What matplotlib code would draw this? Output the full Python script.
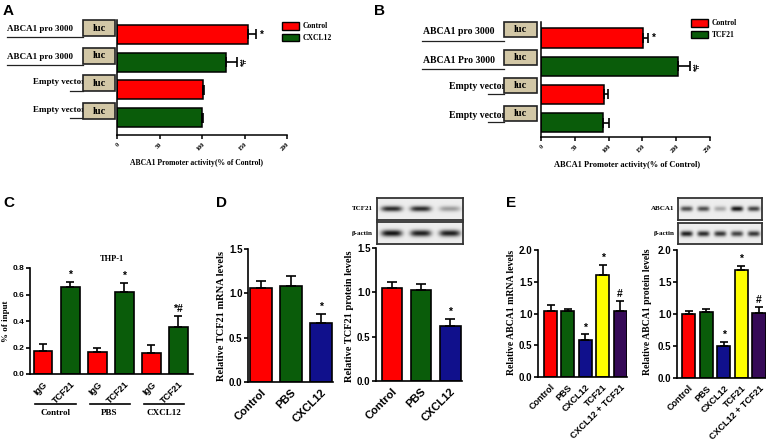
import numpy as np
import matplotlib.pyplot as plt
import matplotlib.transforms as mtransforms
from matplotlib.patches import Rectangle, Patch

W, H, DPI = 766, 443, 100
SANS = 'Liberation Sans'
SERIF = 'Liberation Serif'
RED = '#ff0000'
GREEN = '#0a5c0a'
BLUE = '#10108c'
YELLOW = '#ffff00'
PURPLE = '#360a57'
TAN = '#d2c7a6'

# ---- data ----
# A: promoter activity, CXCL12
a_rows = ['ABCA1 pro 3000', 'ABCA1 pro 3000', 'Empty vector', 'Empty vector']
a_groups = ['Control', 'CXCL12', 'Control', 'CXCL12']
a_vals = [154, 128, 101, 100]
a_errs = [9, 13, 1.5, 1.5]
a_marks = ['*', '*#', '', '']

# B: promoter activity, TCF21
b_rows = ['ABCA1 pro 3000', 'ABCA1 Pro 3000', 'Empty vector', 'Empty vector']
b_groups = ['Control', 'TCF21', 'Control', 'TCF21']
b_vals = [151, 203, 93, 92]
b_errs = [7, 17, 6, 9]
b_marks = ['*', '*#', '', '']

# C: ChIP, THP-1
c_labels = ['IgG', 'TCF21', 'IgG', 'TCF21', 'IgG', 'TCF21']
c_treat = ['Control', 'PBS', 'CXCL12']
c_vals = [0.17, 0.655, 0.165, 0.62, 0.16, 0.355]
c_errs = [0.06, 0.04, 0.035, 0.07, 0.06, 0.085]
c_marks = ['', '*', '', '*', '', '*#']

# D: TCF21 mRNA / protein
d_labels = ['Control', 'PBS', 'CXCL12']
d_mrna = [1.06, 1.08, 0.66]
d_mrna_err = [0.08, 0.11, 0.11]
d_prot = [1.05, 1.03, 0.62]
d_prot_err = [0.07, 0.06, 0.08]
d_marks = ['', '', '*']
d_blot_tcf21 = [0.85, 0.85, 0.35]
d_blot_actin = [0.95, 0.9, 0.9]

# E: ABCA1 mRNA / protein
e_labels = ['Control', 'PBS', 'CXCL12', 'TCF21', 'CXCL12 + TCF21']
e_mrna = [1.04, 1.04, 0.58, 1.61, 1.04]
e_mrna_err = [0.09, 0.03, 0.09, 0.15, 0.16]
e_prot = [1.0, 1.03, 0.5, 1.69, 1.02]
e_prot_err = [0.05, 0.05, 0.06, 0.06, 0.09]
e_marks = ['', '', '*', '*', '#']
e_blot_abca1 = [0.7, 0.7, 0.3, 0.95, 0.75]
e_blot_actin = [0.9, 0.85, 0.8, 0.75, 0.8]

fig = plt.figure(figsize=(W / DPI, H / DPI), dpi=DPI)
fig.patch.set_facecolor('white')

# pixels measured from the top-left corner
PX = mtransforms.Affine2D().scale(1, -1).translate(0, H).scale(1 / DPI) + fig.dpi_scale_trans


def px_axes(x0, y0, x1, y1):
    return fig.add_axes([x0 / W, 1 - y1 / H, (x1 - x0) / W, (y1 - y0) / H])


def ftext(x, y, s, **kw):
    return fig.text(x, y, s, transform=PX, **kw)


def prism_axes(ax, lw=1.2):
    ax.spines['top'].set_visible(False)
    ax.spines['right'].set_visible(False)
    for s in ('left', 'bottom'):
        ax.spines[s].set_linewidth(lw)
    ax.tick_params(width=lw, length=3.5, direction='out')


def promoter_panel(rect, rows, groups, vals, errs, marks, xmax, ylim, geo):
    ax = px_axes(*rect)
    prism_axes(ax, 1.1)
    y = np.arange(len(vals))
    colors = [RED if g == 'Control' else GREEN for g in groups]
    ax.barh(y, vals, height=0.69, color=colors, edgecolor='black', linewidth=1.1, zorder=2)
    ax.errorbar(vals, y, xerr=[np.zeros(len(errs)), errs], fmt='none', ecolor='black',
                elinewidth=1.2, capsize=3.5, capthick=1.2, zorder=3)
    ax.set_xlim(0, xmax)
    ax.set_ylim(*ylim)
    ax.set_yticks([])
    ticks = np.arange(0, xmax + 1, 50)
    ax.set_xticks(ticks)
    ax.set_xticklabels([str(t) for t in ticks], rotation=45, ha='right', rotation_mode='anchor',
                       fontfamily=SERIF, fontweight='bold', fontsize=4.5)
    ax.tick_params(axis='x', length=3, pad=2)
    for yi, v, e, m in zip(y, vals, errs, marks):
        if m == '*':
            ax.text(v + e + xmax * 0.025, yi, m, ha='left', va='center', fontfamily=SANS,
                    fontweight='bold', fontsize=7)
        elif m:
            ax.text(v + e + xmax * 0.02, yi, m, ha='left', va='center', rotation=90,
                    fontfamily=SANS, fontweight='bold', fontsize=6.5)

    # construct diagrams: label, line and luc box
    tr = mtransforms.blended_transform_factory(PX, ax.transData)
    bx0, bx1 = geo['box']
    for yi, name in zip(y, rows):
        box = Rectangle((bx0, yi + geo['box_top']), bx1 - bx0, geo['box_bot'] - geo['box_top'],
                        transform=tr, facecolor=TAN, edgecolor='#222222', linewidth=1.2,
                        clip_on=False, zorder=4)
        ax.add_patch(box)
        ax.text((bx0 + bx1) / 2, yi + (geo['box_top'] + geo['box_bot']) / 2, 'luc', transform=tr,
                ha='center', va='center', fontfamily=SERIF, fontweight='bold', fontsize=7.5,
                clip_on=False, zorder=5)
        if name.startswith('ABCA1'):
            ax.plot([geo['line_x0'], bx0], [yi + geo['line_off']] * 2, transform=tr, color='#222222',
                    lw=0.9, clip_on=False)
            ax.text(geo['text_x'], yi + geo['text_off'], name, transform=tr, ha='left', va='center',
                    fontfamily=SERIF, fontweight='bold', fontsize=geo['fs'], clip_on=False)
        else:
            ax.plot([geo['eline_x0'], bx0], [yi + geo['eline_off']] * 2, transform=tr, color='#222222',
                    lw=0.9, clip_on=False)
            ax.text(bx0 + 2, yi + geo['etext_off'], name, transform=tr, ha='right', va='center',
                    fontfamily=SERIF, fontweight='bold', fontsize=geo['fs'], clip_on=False, zorder=3)
    return ax


def bar_panel(rect, labels, vals, errs, colors, ymax, ystep, xlim, marks, width,
              tick_fs, ytick_fs, capsize=3):
    ax = px_axes(*rect)
    prism_axes(ax)
    x = np.arange(len(vals))
    ax.bar(x, vals, width=width, color=colors, edgecolor='black', linewidth=1.2, zorder=2)
    ax.errorbar(x, vals, yerr=[np.zeros(len(errs)), errs], fmt='none', ecolor='black',
                elinewidth=1.2, capsize=capsize, capthick=1.2, zorder=3)
    ax.set_xlim(*xlim)
    ax.set_ylim(0, ymax)
    yt = np.arange(0, ymax + 1e-9, ystep)
    ax.set_yticks(yt)
    ax.set_yticklabels([f'{t:.1f}' for t in yt], fontfamily=SANS, fontweight='bold', fontsize=ytick_fs)
    ax.set_xticks(x)
    ax.set_xticklabels(labels, rotation=45, ha='right', rotation_mode='anchor',
                       fontfamily=SANS, fontweight='bold', fontsize=tick_fs)
    ax.tick_params(axis='x', length=0, pad=4)
    ax.tick_params(axis='y', length=3, pad=1)
    for xi, v, e, m in zip(x, vals, errs, marks):
        if m:
            ax.text(xi, v + e + ymax * 0.015, m, ha='center', va='bottom', fontfamily=SANS,
                    fontweight='bold', fontsize=7.5)
    return ax


def blot_image(intens, thick=0.13, nrow=44, ncol=160):
    n = len(intens)
    yy, xx = np.mgrid[0:nrow, 0:ncol]
    img = np.full((nrow, ncol), 0.93)
    lane = ncol / n
    for k, v in enumerate(intens):
        cx = (k + 0.5) * lane
        band = np.exp(-((xx - cx) / (0.36 * lane)) ** 4 - ((yy - nrow * 0.5) / (nrow * thick)) ** 2)
        img -= v * 0.9 * band
    return np.clip(img, 0, 1)


def blot(rect, intens, label, thick=0.13):
    ax = px_axes(*rect)
    ax.imshow(blot_image(intens, thick), cmap='gray', vmin=0, vmax=1, aspect='auto',
              interpolation='bilinear')
    ax.set_xticks([])
    ax.set_yticks([])
    for s in ax.spines.values():
        s.set_linewidth(1.3)
        s.set_color('#333333')
    ftext(rect[0] - 4, (rect[1] + rect[3]) / 2, label, ha='right', va='center',
          fontfamily=SERIF, fontweight='bold', fontsize=5)


def legend(x, y, treat):
    handles = [Patch(facecolor=RED, edgecolor='black', linewidth=1),
               Patch(facecolor=GREEN, edgecolor='black', linewidth=1)]
    fig.legend(handles, ['Control', treat], loc='upper left', bbox_to_anchor=(x, y),
               bbox_transform=PX, frameon=False, borderpad=0, borderaxespad=0,
               handlelength=2.2, handleheight=1.2, handletextpad=0.5, labelspacing=0.4,
               prop=dict(family=SERIF, weight='bold', size=5.5))


# ---- A ----
geo_a = dict(box=(83, 115), box_top=-0.52, box_bot=0.06, line_x0=7, line_off=0.09,
             text_x=7, text_off=-0.18, eline_x0=70, eline_off=0.03, etext_off=-0.27, fs=6.5)
promoter_panel((117, 20, 287, 135), a_rows, a_groups, a_vals, a_errs, a_marks, 200,
               (3.63, -0.52), geo_a)
legend(282, 22, 'CXCL12')
ftext(197, 163, 'ABCA1 Promoter activity(% of Control)', ha='center', va='center',
      fontfamily=SERIF, fontweight='bold', fontsize=5.5)

# ---- B ----
geo_b = dict(box=(504, 537), box_top=-0.58, box_bot=-0.04, line_x0=422, line_off=0.1,
             text_x=423, text_off=-0.22, eline_x0=488, eline_off=-0.02, etext_off=-0.27, fs=7)
promoter_panel((541, 22, 710, 137), b_rows, b_groups, b_vals, b_errs, b_marks, 250,
               (3.51, -0.57), geo_b)
legend(691, 19, 'TCF21')
ftext(627, 165, 'ABCA1 Promoter activity(% of Control)', ha='center', va='center',
      fontfamily=SERIF, fontweight='bold', fontsize=6)

# ---- C ----
ax_c = bar_panel((30, 268, 193, 374), c_labels, c_vals, c_errs, [RED, GREEN] * 3, 0.8, 0.2,
                 (-0.48, 5.54), c_marks, 0.7, 6.5, 6)
ax_c.set_title('THP-1', fontfamily=SERIF, fontweight='bold', fontsize=6, pad=5)
tr_c = mtransforms.blended_transform_factory(ax_c.transData, PX)
for k, name in enumerate(c_treat):
    cx = 2 * k + 0.5
    ax_c.plot([cx - 0.78, cx + 0.72], [404, 404], transform=tr_c, color='black', lw=1.2, clip_on=False)
    ax_c.text(cx - 0.05, 413, name, transform=tr_c, ha='center', va='center', fontfamily=SERIF,
              fontweight='bold', fontsize=6.5, clip_on=False)
ftext(6, 321, '% of input', rotation=90, ha='center', va='center', fontfamily=SERIF,
      fontweight='bold', fontsize=6.5)

# ---- D ----
bar_panel((248, 249, 333, 382), d_labels, d_mrna, d_mrna_err, [RED, GREEN, BLUE], 1.5, 0.5,
          (-0.43, 2.4), d_marks, 0.72, 8, 7, 3.5)
bar_panel((376, 248, 462, 381), d_labels, d_prot, d_prot_err, [RED, GREEN, BLUE], 1.5, 0.5,
          (-0.55, 2.41), d_marks, 0.72, 8, 7, 3.5)
ftext(221, 316, 'Relative TCF21 mRNA levels', rotation=90, ha='center', va='center',
      fontfamily=SERIF, fontweight='bold', fontsize=7.5)
ftext(350, 316, 'Relative TCF21 protein levels', rotation=90, ha='center', va='center',
      fontfamily=SERIF, fontweight='bold', fontsize=7.5)
blot((377, 198, 463, 220), d_blot_tcf21, 'TCF21', 0.12)
blot((377, 222, 463, 244), d_blot_actin, 'β-actin', 0.15)

# ---- E ----
e_colors = [RED, GREEN, BLUE, YELLOW, PURPLE]
bar_panel((538, 250, 627, 377), e_labels, e_mrna, e_mrna_err, e_colors, 2.0, 0.5,
          (-0.72, 4.4), e_marks, 0.75, 6.5, 7, 3)
bar_panel((677, 250, 766, 378), e_labels, e_prot, e_prot_err, e_colors, 2.0, 0.5,
          (-0.66, 4.4), e_marks, 0.75, 6.5, 7, 3)
ftext(511, 312, 'Relative ABCA1 mRNA levels', rotation=90, ha='center', va='center',
      fontfamily=SERIF, fontweight='bold', fontsize=7)
ftext(647, 312, 'Relative ABCA1 protein levels', rotation=90, ha='center', va='center',
      fontfamily=SERIF, fontweight='bold', fontsize=7)
blot((678, 198, 762, 220), e_blot_abca1, 'ABCA1', 0.11)
blot((678, 223, 762, 244), e_blot_actin, 'β-actin', 0.13)

# ---- panel letters ----
for lx, ly, letter in [(3, 4, 'A'), (374, 4, 'B'), (3, 196, 'C'), (216, 196, 'D'), (506, 196, 'E')]:
    ftext(lx, ly, letter, ha='left', va='top', fontfamily=SANS, fontweight='bold', fontsize=11)

fig.savefig('out.png', dpi=DPI, facecolor='white')
